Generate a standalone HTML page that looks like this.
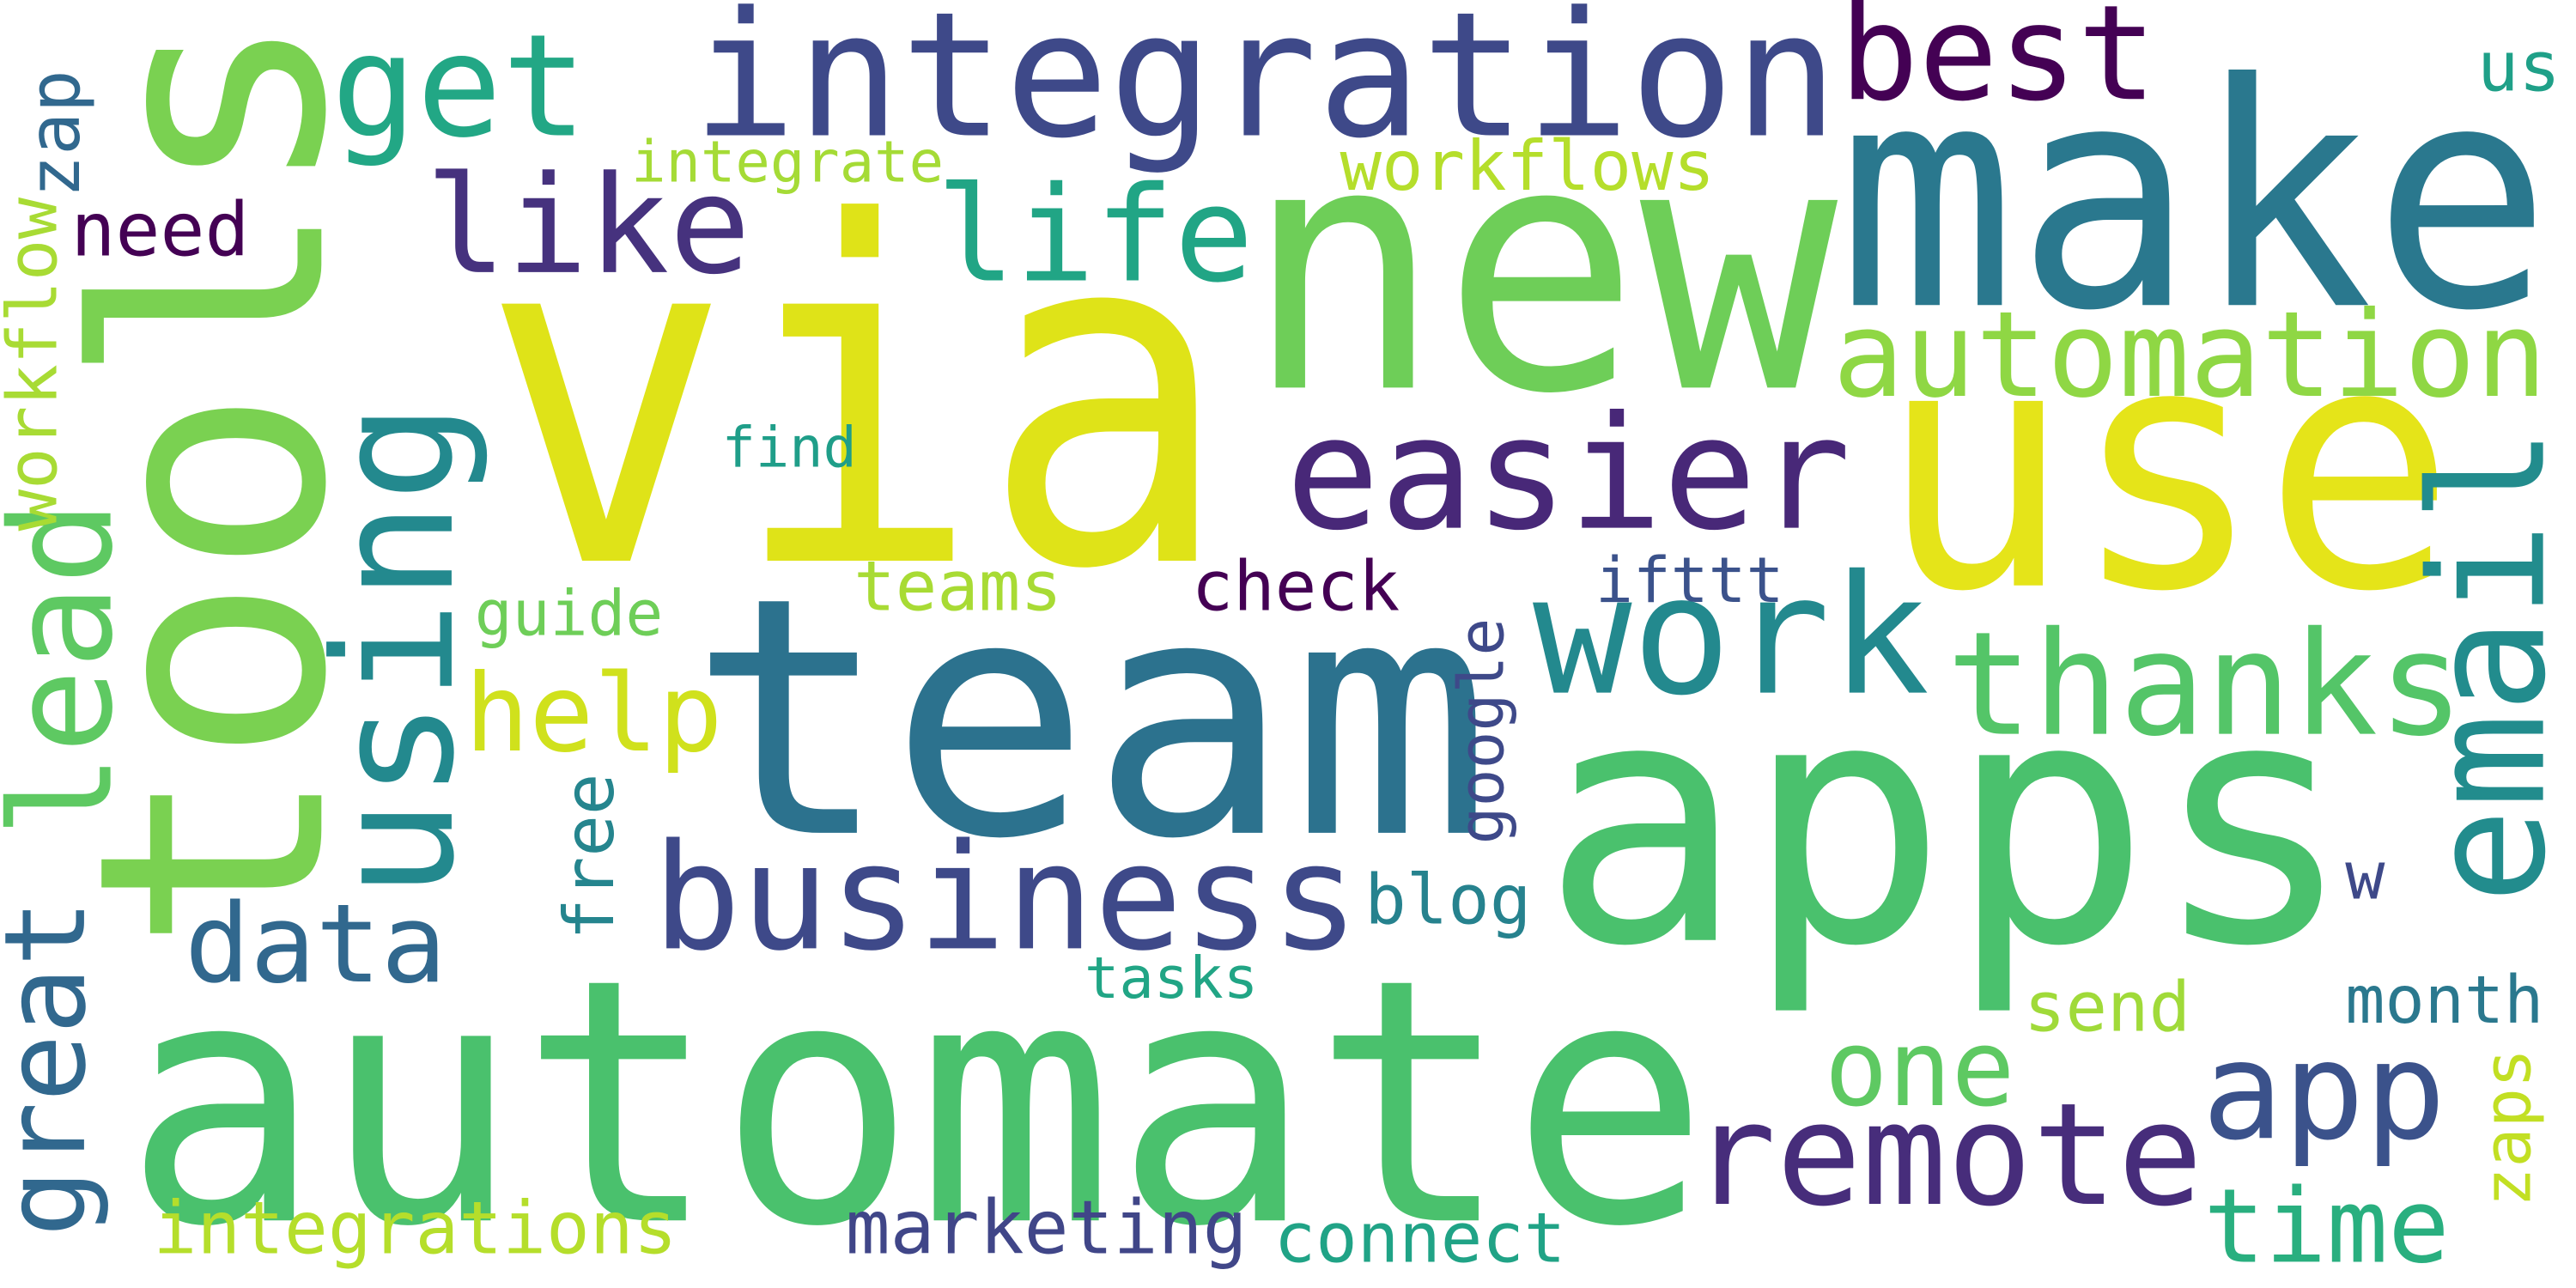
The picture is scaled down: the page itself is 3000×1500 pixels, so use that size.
<!DOCTYPE html>
<html><head><meta charset="utf-8"><style>
html,body{margin:0;padding:0;background:#fff;width:3000px;height:1500px;overflow:hidden}
svg{display:block}
text{font-family:"DejaVu Sans Mono","Liberation Mono",monospace}
</style></head><body>
<svg width="3000" height="1500" viewBox="0 0 1563 781" preserveAspectRatio="none" xmlns="http://www.w3.org/2000/svg">
<rect width="1563" height="781" fill="#fff"/>
<text x="292" y="340" font-size="285" textLength="455" lengthAdjust="spacingAndGlyphs" fill="#dfe318">via</text>
<text x="418" y="505" font-size="200" textLength="487" lengthAdjust="spacingAndGlyphs" fill="#2c728e">team</text>
<text x="755" y="235" font-size="208" textLength="360" lengthAdjust="spacingAndGlyphs" fill="#6ece58">new</text>
<text x="1115" y="185" font-size="188" textLength="433" lengthAdjust="spacingAndGlyphs" fill="#2a788e">make</text>
<text x="1140" y="355" font-size="205" textLength="350" lengthAdjust="spacingAndGlyphs" fill="#e5e419">use</text>
<text x="935" y="570" font-size="205" fill="#4ac16d">apps</text>
<text x="75" y="740" font-size="205" textLength="962" lengthAdjust="spacingAndGlyphs" fill="#4ac16d">automate</text>
<text transform="translate(195,578) rotate(-90)" font-size="190" fill="#7ad151">tools</text>
<text x="420" y="82" font-size="105" fill="#3e4989">integration</text>
<text x="1116" y="60" font-size="80" fill="#440154">best</text>
<text x="201" y="82" font-size="86" fill="#22a785">get</text>
<text x="258" y="165" font-size="82" fill="#46327e">like</text>
<text x="568" y="170" font-size="80" fill="#21a585">life</text>
<text transform="translate(274,545) rotate(-90)" font-size="100" fill="#23898e">using</text>
<text x="780" y="320" font-size="95" fill="#482878">easier</text>
<text x="930" y="420" font-size="100" fill="#23898e">work</text>
<text x="1181" y="445" font-size="87" fill="#54c568">thanks</text>
<text x="1112" y="240" font-size="72" fill="#8fd744">automation</text>
<text transform="translate(1543,548) rotate(-90)" font-size="96" fill="#228c8d">email</text>
<text transform="translate(67,508) rotate(-90)" font-size="85" fill="#5ec962">lead</text>
<text transform="translate(51,750) rotate(-90)" font-size="68" fill="#31688e">great</text>
<text transform="translate(34,322) rotate(-90)" font-size="42" fill="#a8db34">workflow</text>
<text transform="translate(48,120) rotate(-90)" font-size="43" fill="#31688e">zap</text>
<text x="43" y="155" font-size="45" fill="#440154">need</text>
<text x="383" y="110" font-size="35" fill="#a5db36">integrate</text>
<text x="813" y="115" font-size="42" fill="#b5de2b">workflows</text>
<text x="1503" y="55" font-size="42" fill="#1fa088">us</text>
<text x="438" y="283" font-size="34" fill="#1f9e89">find</text>
<text x="282" y="455" font-size="65" fill="#d0e11c">help</text>
<text x="288" y="385" font-size="38" fill="#6ece58">guide</text>
<text x="518" y="370" font-size="42" fill="#a8db34">teams</text>
<text x="723" y="370" font-size="42" fill="#440154">check</text>
<text x="968" y="365" font-size="38" fill="#3b528b">ifttt</text>
<text transform="translate(912,512) rotate(-90)" font-size="38" fill="#3e4989">google</text>
<text transform="translate(372,570) rotate(-90)" font-size="42" fill="#25858e">free</text>
<text x="396" y="575" font-size="89" fill="#3e4989">business</text>
<text x="112" y="595" font-size="66" fill="#31688e">data</text>
<text x="828" y="560" font-size="42" fill="#26828e">blog</text>
<text x="658" y="605" font-size="35" fill="#21a585">tasks</text>
<text x="1107" y="670" font-size="64" fill="#5ec962">one</text>
<text x="1336" y="690" font-size="82" fill="#3b528b">app</text>
<text x="1423" y="545" font-size="40" fill="#3e4989">w</text>
<text x="1228" y="625" font-size="42" fill="#a0da39">send</text>
<text x="1423" y="620" font-size="40" fill="#2a788e">month</text>
<text transform="translate(1535,732) rotate(-90)" font-size="40" fill="#c2df23">zaps</text>
<text x="1026" y="730" font-size="86" fill="#472d7b">remote</text>
<text x="1337" y="765" font-size="62" fill="#29af7f">time</text>
<text x="513" y="760" font-size="45" fill="#404688">marketing</text>
<text x="773" y="765" font-size="42" fill="#20a386">connect</text>
<text x="93" y="760" font-size="44" fill="#b5de2b">integrations</text>
</svg>
</body></html>
